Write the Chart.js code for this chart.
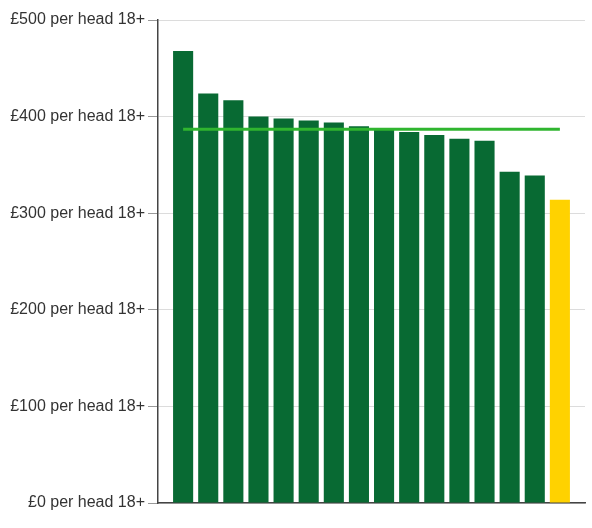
<!DOCTYPE html>
<html>
<head>
<meta charset="utf-8">
<script src="https://cdn.jsdelivr.net/npm/chart.js@4"></script>
<style>
  html, body { margin: 0; padding: 0; background: #fff; }
  #wrap { width: 592px; height: 528px; }
</style>
</head>
<body>
<div id="wrap"><canvas id="spend"></canvas></div>
<script>
// spend per head 18+, sorted high to low; last one is the highlighted area
const spend = [468, 424, 417, 400, 398, 396, 394, 390, 386, 384, 381, 377, 375, 343, 339, 314];
const average = 387;
const yTicks = [0, 100, 200, 300, 400, 500];

const GREEN = '#086a33';
const YELLOW = '#ffd200';

const barColours = spend.map((v, i) => (i === spend.length - 1 ? YELLOW : GREEN));
const avgLine = [{ x: 0, y: average }, { x: spend.length - 1, y: average }];

new Chart(document.getElementById('spend'), {
  type: 'bar',
  data: {
    datasets: [
      {
        type: 'line',
        data: avgLine,
        borderColor: '#2fb52f',
        borderWidth: 3,
        pointRadius: 0,
        order: 0,
      },
      {
        data: spend.map((v, i) => ({ x: i, y: v })),
        backgroundColor: barColours,
        barPercentage: 0.8,
        categoryPercentage: 1,
        order: 1,
      },
    ],
  },
  options: {
    responsive: true,
    maintainAspectRatio: false,
    animation: false,
    layout: { padding: { top: 20, right: 7, bottom: 17, left: 0 } },
    plugins: {
      legend: { display: false },
      tooltip: { enabled: false },
    },
    scales: {
      x: {
        type: 'linear',
        offset: false,
        min: -1,
        max: spend.length,
        ticks: { display: false },
        grid: { display: false },
        border: { color: '#444', width: 1.5 },
      },
      y: {
        min: 0,
        max: 500,
        afterBuildTicks: (axis) => {
          axis.ticks = yTicks.map((v) => ({ value: v }));
        },
        afterFit: (axis) => {
          axis.width = 158;
        },
        ticks: {
          padding: 3,
          color: '#333',
          font: { family: 'Liberation Sans, Arial, sans-serif', size: 16 },
          callback: (v) => '£' + v + ' per head 18+',
        },
        grid: {
          color: '#dcdcdc',
          tickColor: '#999',
          tickLength: 10,
        },
        border: { color: '#444', width: 1.5 },
      },
    },
  },
});
</script>
</body>
</html>
